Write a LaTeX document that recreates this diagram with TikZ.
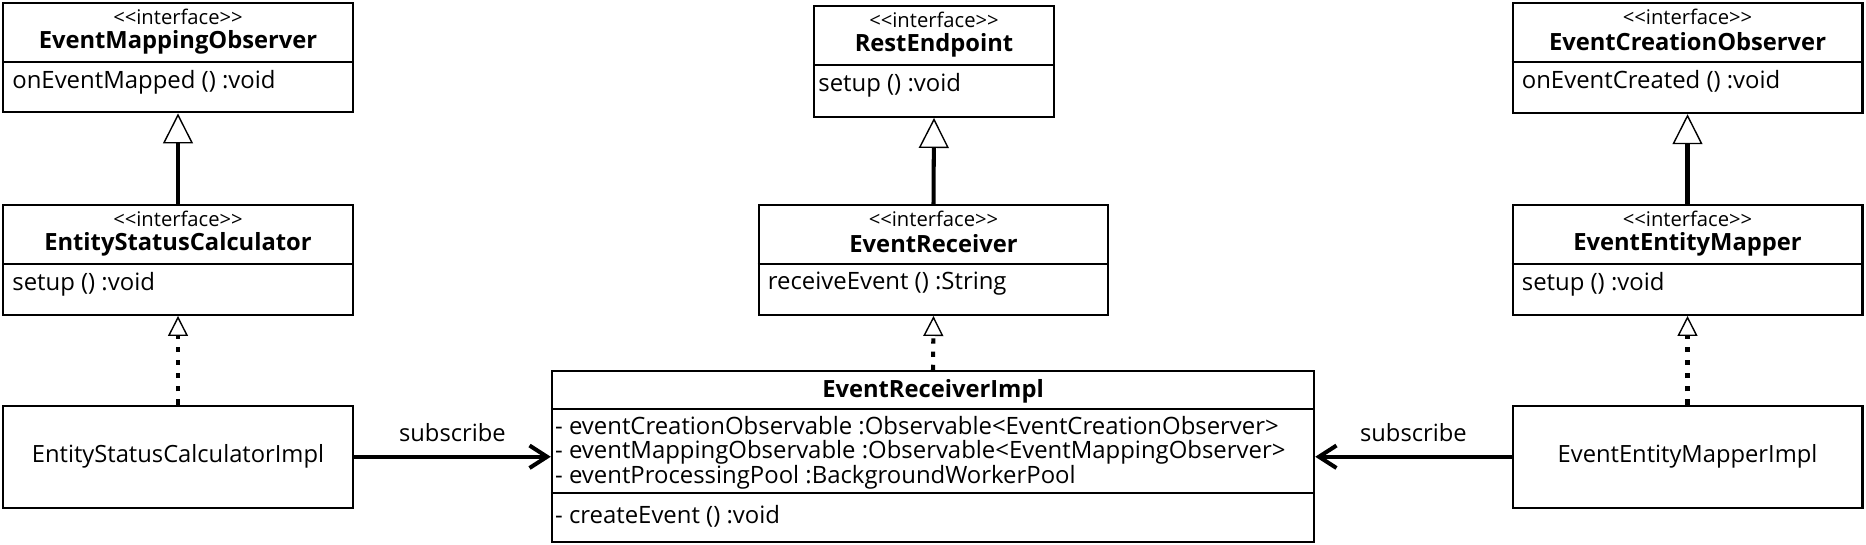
\documentclass[tikz,border=0pt]{standalone}
\usepackage{fontspec}
\setmainfont{Open Sans}
\usetikzlibrary{arrows.meta,positioning}
\newcommand{\stereotype}{<\kern0pt<interface>\kern0pt>}

\begin{document}
\begin{tikzpicture}[
  cls/.style={draw, line width=1.4pt, inner sep=0pt, fill=white},
  stereo/.style={font=\fontsize{11.5}{12}\selectfont, inner sep=0pt},
  cname/.style={font=\fontsize{13.5}{15}\selectfont\bfseries, inner sep=0pt},
  member/.style={font=\fontsize{13.6}{13.2}\selectfont, anchor=west,
    inner sep=0pt, align=left},
  sep/.style={line width=1.1pt},
  inherit/.style={-{Triangle[open, length=6mm, width=6mm, line width=.8pt]},
    line width=2.3pt},
  realize/.style={-{Triangle[open, length=4mm, width=4mm, line width=.8pt]},
    line width=2.3pt, dash pattern=on 3pt off 4.5pt},
  uses/.style={-{Straight Barb[length=3.5mm, width=4.5mm]}, line width=2.3pt},
  label/.style={font=\fontsize{13.5}{15}\selectfont}
]
  \useasboundingbox (0,0) rectangle (37.32,-10.88);

  % interfaces, top row
  \node[cls, minimum width=6.99cm, minimum height=2.18cm] (emo) at (3.56,-1.155) {};
  \node[stereo] (emo-st) at ([yshift=-.3cm]emo.north) {\stereotype};
  \node[cname] (emo-name) at ([yshift=-.8cm]emo.north) {EventMappingObserver};
  \draw[sep] ([yshift=-1.2cm]emo.north west) -- ([yshift=-1.2cm]emo.north east);
  \node[member] (emo-op) at ([xshift=.2cm, yshift=-1.6cm]emo.north west) {onEventMapped () :void};

  \node[cls, minimum width=4.79cm, minimum height=2.21cm] (re) at (18.68,-1.23) {};
  \node[stereo] (re-st) at ([yshift=-.3cm]re.north) {\stereotype};
  \node[cname] (re-name) at ([yshift=-.8cm]re.north) {RestEndpoint};
  \draw[sep] ([yshift=-1.2cm]re.north west) -- ([yshift=-1.2cm]re.north east);
  \node[member] (re-op) at ([xshift=.1cm, yshift=-1.6cm]re.north west) {setup () :void};

  \node[cls, minimum width=6.99cm, minimum height=2.2cm] (eco) at (33.75,-1.16) {};
  \node[stereo] (eco-st) at ([yshift=-.3cm]eco.north) {\stereotype};
  \node[cname] (eco-name) at ([yshift=-.8cm]eco.north) {EventCreationObserver};
  \draw[sep] ([yshift=-1.2cm]eco.north west) -- ([yshift=-1.2cm]eco.north east);
  \node[member] (eco-op) at ([xshift=.2cm, yshift=-1.6cm]eco.north west) {onEventCreated () :void};

  % interfaces, middle row
  \node[cls, minimum width=6.99cm, minimum height=2.19cm] (esc) at (3.56,-5.2) {};
  \node[stereo] (esc-st) at ([yshift=-.3cm]esc.north) {\stereotype};
  \node[cname] (esc-name) at ([yshift=-.8cm]esc.north) {EntityStatusCalculator};
  \draw[sep] ([yshift=-1.2cm]esc.north west) -- ([yshift=-1.2cm]esc.north east);
  \node[member] (esc-op) at ([xshift=.2cm, yshift=-1.6cm]esc.north west) {setup () :void};

  \node[cls, minimum width=6.99cm, minimum height=2.19cm] (er) at (18.67,-5.2) {};
  \node[stereo] (er-st) at ([yshift=-.3cm]er.north) {\stereotype};
  \node[cname] (er-name) at ([yshift=-.8cm]er.north) {EventReceiver};
  \draw[sep] ([yshift=-1.2cm]er.north west) -- ([yshift=-1.2cm]er.north east);
  \node[member] (er-op) at ([xshift=.2cm, yshift=-1.6cm]er.north west) {receiveEvent () :String};

  \node[cls, minimum width=6.99cm, minimum height=2.19cm] (eem) at (33.75,-5.2) {};
  \node[stereo] (eem-st) at ([yshift=-.3cm]eem.north) {\stereotype};
  \node[cname] (eem-name) at ([yshift=-.8cm]eem.north) {EventEntityMapper};
  \draw[sep] ([yshift=-1.2cm]eem.north west) -- ([yshift=-1.2cm]eem.north east);
  \node[member] (eem-op) at ([xshift=.2cm, yshift=-1.6cm]eem.north west) {setup () :void};

  % implementations
  \node[cls, minimum width=6.99cm, minimum height=2.04cm, label] (escimpl) at (3.56,-9.135)
    {EntityStatusCalculatorImpl};
  \node[cls, minimum width=6.99cm, minimum height=2.04cm, label] (eemimpl) at (33.75,-9.135)
    {EventEntityMapperImpl};

  \node[cls, minimum width=15.24cm, minimum height=3.42cm] (erimpl) at (18.66,-9.135) {};
  \node[cname] (erimpl-name) at ([yshift=-.42cm]erimpl.north) {EventReceiverImpl};
  \draw[sep] ([yshift=-.78cm]erimpl.north west) -- ([yshift=-.78cm]erimpl.north east);
  \node[member] (erimpl-attr) at ([xshift=.08cm, yshift=-1.66cm]erimpl.north west)
    {- eventCreationObservable :Observable<EventCreationObserver>\\
     - eventMappingObservable :Observable<EventMappingObserver>\\
     - eventProcessingPool :BackgroundWorkerPool};
  \draw[sep] ([yshift=-2.46cm]erimpl.north west) -- ([yshift=-2.46cm]erimpl.north east);
  \node[member] (erimpl-op) at ([xshift=.08cm, yshift=-2.92cm]erimpl.north west)
    {- createEvent () :void};

  % relations
  \draw[inherit] (esc.north) -- (emo.south);
  \draw[inherit] (er.north) -- (re.south);
  \draw[inherit] (eem.north) -- (eco.south);
  \draw[realize] (escimpl.north) -- (esc.south);
  \draw[realize] (erimpl.north) -- (er.south);
  \draw[realize] (eemimpl.north) -- (eem.south);
  \draw[uses] (escimpl.east) -- node[label, above=4pt] (sub-l) {subscribe} (erimpl.west);
  \draw[uses] (eemimpl.west) -- node[label, above=4pt] (sub-r) {subscribe} (erimpl.east);
\end{tikzpicture}
\end{document}
